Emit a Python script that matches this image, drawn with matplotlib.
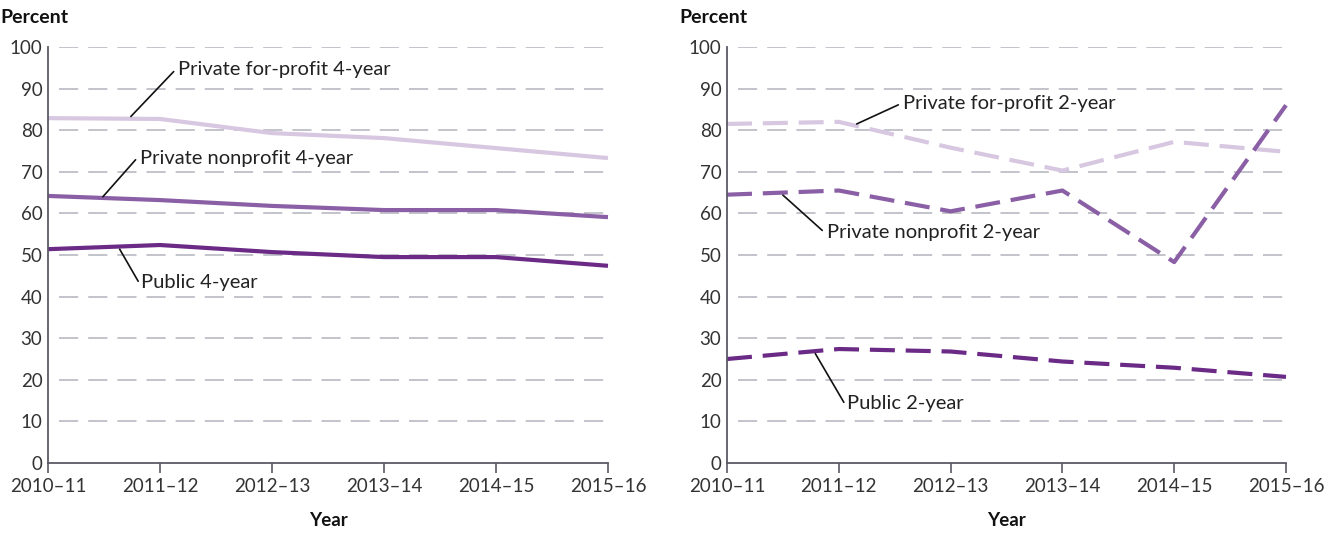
import matplotlib
matplotlib.use("Agg")
import matplotlib.pyplot as plt

years = ["2010–11", "2011–12", "2012–13", "2013–14", "2014–15", "2015–16"]
yticks = [0, 10, 20, 30, 40, 50, 60, 70, 80, 90, 100]

pfp4 = [82.9, 82.7, 79.3, 78.1, 75.7, 73.3]
pn4 = [64.2, 63.2, 61.8, 60.8, 60.8, 59.1]
pub4 = [51.4, 52.4, 50.7, 49.5, 49.5, 47.4]

pfp2 = [81.5, 82.0, 75.8, 70.3, 77.2, 74.8]
pn2 = [64.5, 65.5, 60.5, 65.5, 48.3, 86.0]
pub2 = [25.0, 27.4, 26.8, 24.4, 22.9, 20.7]

light = "#d8c7e0"
mid = "#8a5fa5"
dark = "#6b2a86"

plt.rcParams['font.family'] = ['Lato', 'DejaVu Sans']

fig = plt.figure(figsize=(13.36, 5.33), dpi=100)
axL = fig.add_axes([48/1336, 1-463/533, 560/1336, 416/533])
axR = fig.add_axes([727/1336, 1-463/533, 559/1336, 416/533])

x = list(range(len(years)))

def style(ax):
    ax.set_xlim(0, 5)
    ax.set_ylim(0, 100)
    for s in ["top", "right"]:
        ax.spines[s].set_visible(False)
    for s in ["left", "bottom"]:
        ax.spines[s].set_color("#5a5a66")
        ax.spines[s].set_linewidth(1.3)
    ax.set_yticks(yticks)
    ax.set_xticks(x)
    ax.set_xticklabels(years)
    ax.tick_params(axis="y", length=0, pad=4, labelsize=13.5, labelcolor="#333333")
    ax.tick_params(axis="x", length=7, width=1.2, color="#5a5a66", pad=4,
                   labelsize=13.5, labelcolor="#333333")
    for yv in yticks[1:]:
        ax.axhline(yv, xmin=0.02, xmax=1, color="#b9b9c2", lw=1.2,
                   linestyle=(0, (11.5, 6)), zorder=0)
    ax.set_xlabel("Year", fontsize=13.5, fontweight="bold", labelpad=12, color="#111111")
    ax.text(-0.085, 1.072, "Percent", transform=ax.transAxes, fontsize=14,
            fontweight="bold", ha="left", va="center", color="#111111")

style(axL)
style(axR)

axL.plot(x, pfp4, color=light, lw=3, solid_capstyle="butt", clip_on=False)
axL.plot(x, pn4, color=mid, lw=3, solid_capstyle="butt", clip_on=False)
axL.plot(x, pub4, color=dark, lw=3, solid_capstyle="butt", clip_on=False)

ds = (0, (6, 2.6))
axR.plot(x, pfp2, color=light, lw=3, linestyle=ds, clip_on=False)
axR.plot(x, pn2, color=mid, lw=3, linestyle=ds, clip_on=False)
axR.plot(x, pub2, color=dark, lw=3, linestyle=ds, clip_on=False)

ap = dict(arrowstyle="-", color="#111111", lw=1.2, shrinkA=0, shrinkB=0)

def label(ax, text, xy, xytext, rel=(0, 0.3)):
    p = dict(ap)
    p["relpos"] = rel
    ax.annotate(text, xy=xy, xytext=xytext, textcoords="data", fontsize=14.5,
                ha="left", va="center", color="#222222", arrowprops=p)

label(axL, "Private for-profit 4-year", (0.74, 83.3), (1.16, 94.5), rel=(-0.02, 0.4))
label(axL, "Private nonprofit 4-year", (0.49, 64.0), (0.82, 73.3), rel=(-0.02, 0.4))
label(axL, "Public 4-year", (0.64, 51.4), (0.83, 43.5), rel=(-0.02, 0.5))

label(axR, "Private for-profit 2-year", (1.16, 81.5), (1.57, 86.5), rel=(-0.02, 0.4))
label(axR, "Private nonprofit 2-year", (0.50, 64.4), (0.89, 55.5), rel=(-0.02, 0.6))
label(axR, "Public 2-year", (0.79, 26.3), (1.07, 14.4), rel=(-0.02, 0.5))

fig.savefig("out.png", dpi=100)
